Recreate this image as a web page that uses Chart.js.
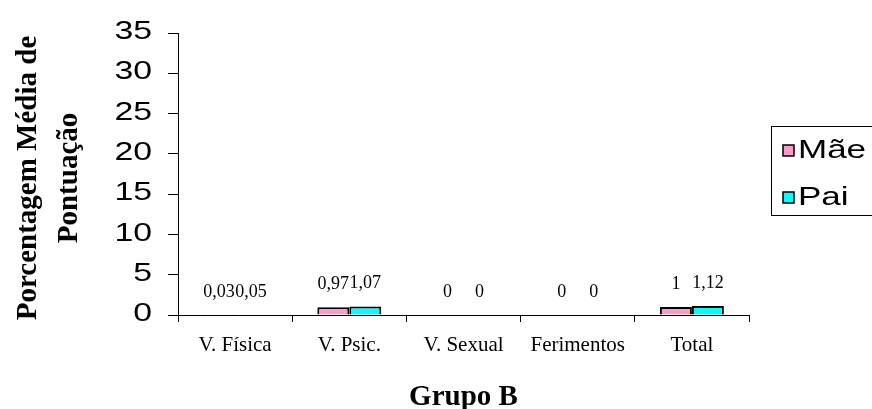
<!DOCTYPE html>
<html>
<head>
<meta charset="utf-8">
<script src="https://cdn.jsdelivr.net/npm/chart.js@4/dist/chart.umd.min.js"></script>
<style>
  body { margin: 0; background: #fff; }
</style>
</head>
<body>
<canvas id="grafico" width="872" height="409"></canvas>
<script>
// dados do grupo B
const categorias = ["V. Física", "V. Psic.", "V. Sexual", "Ferimentos", "Total"]
const valoresMae = [0.03, 0.97, 0, 0, 1]
const valoresPai = [0.05, 1.07, 0, 0, 1.12]
const ticksY = [0, 5, 10, 15, 20, 25, 30, 35]

const CORES = { mae: "#FF99CC", pai: "#00FFFF" }

// numero com virgula
function virgula(v) {
  return String(v).replace(".", ",")
}

// rotulos do eixo Y (desenhados a mao pra poder esticar o texto)
const rotulosEixoY = {
  id: "rotulosEixoY",
  afterDraw(chart) {
    const ctx = chart.ctx
    const y = chart.scales.y
    ctx.save()
    ctx.fillStyle = "#000"
    ctx.font = "26px 'Liberation Sans', Arial, sans-serif"
    ctx.textAlign = "right"
    ctx.textBaseline = "middle"
    y.ticks.forEach(function (t, i) {
      ctx.save()
      ctx.translate(y.right - 26, y.getPixelForTick(i) - 1)
      ctx.scale(1.3, 1)
      ctx.fillText(t.value, 0, 0)
      ctx.restore()
    })

    // titulo do eixo Y em duas linhas
    const meio = (chart.chartArea.top + chart.chartArea.bottom) / 2 + 4
    ctx.font = "bold 29px 'Liberation Serif', 'Times New Roman', serif"
    ctx.textAlign = "center"
    ctx.textBaseline = "alphabetic"
    ctx.translate(0, meio)
    ctx.rotate(-Math.PI / 2)
    ctx.fillText("Porcentagem Média de", 0, 36)
    ctx.fillText("Pontuação", 0, 77)
    ctx.restore()
  }
}

// valores em cima das barras
const valoresBarras = {
  id: "valoresBarras",
  afterDatasetsDraw(chart) {
    const ctx = chart.ctx
    ctx.save()
    ctx.fillStyle = "#000"
    ctx.font = "18px 'Liberation Serif', 'Times New Roman', serif"
    ctx.textAlign = "center"
    ctx.textBaseline = "alphabetic"
    chart.data.datasets.forEach(function (ds, d) {
      chart.getDatasetMeta(d).data.forEach(function (bar, i) {
        ctx.fillText(virgula(ds.data[i]), bar.x, bar.y - 18)
      })
    })
    ctx.restore()
  }
}

// legenda com caixa e titulo de baixo
const legendaCaixa = {
  id: "legendaCaixa",
  afterDraw(chart) {
    const ctx = chart.ctx
    ctx.save()
    ctx.strokeStyle = "#000"
    ctx.lineWidth = 1
    ctx.strokeRect(771.5, 126.5, 120, 89)

    chart.data.datasets.forEach(function (ds, d) {
      const yTop = 145 + d * 47
      ctx.fillStyle = ds.backgroundColor
      ctx.fillRect(783, yTop, 11, 11)
      ctx.strokeStyle = "#000"
      ctx.lineWidth = 1.5
      ctx.strokeRect(783, yTop, 11, 11)

      ctx.fillStyle = "#000"
      ctx.font = "25px 'Liberation Sans', Arial, sans-serif"
      ctx.textAlign = "left"
      ctx.textBaseline = "alphabetic"
      ctx.save()
      ctx.translate(798, yTop + 13)
      ctx.scale(1.4, 1)
      ctx.fillText(ds.label, 0, 0)
      ctx.restore()
    })

    const area = chart.chartArea
    ctx.fillStyle = "#000"
    ctx.font = "bold 29px 'Liberation Serif', 'Times New Roman', serif"
    ctx.textAlign = "center"
    ctx.fillText("Grupo B", (area.left + area.right) / 2, 405)
    ctx.restore()
  }
}

const grafico = new Chart(document.getElementById("grafico"), {
  type: "bar",
  data: {
    labels: categorias,
    datasets: [
      { label: "Mãe", data: valoresMae, backgroundColor: CORES.mae, borderColor: "#000", borderWidth: 2 },
      { label: "Pai", data: valoresPai, backgroundColor: CORES.pai, borderColor: "#000", borderWidth: 2 }
    ]
  },
  options: {
    responsive: false,
    animation: false,
    devicePixelRatio: 1,
    layout: { padding: { left: 0, top: 33, right: 123, bottom: 0 } },
    plugins: {
      legend: { display: false },
      tooltip: { enabled: false }
    },
    datasets: {
      bar: { categoryPercentage: 0.56, barPercentage: 1 }
    },
    scales: {
      x: {
        grid: { drawOnChartArea: false, tickLength: 7, color: "#000", offset: true },
        border: { color: "#000", width: 1 },
        ticks: {
          color: "#000",
          padding: 11,
          maxRotation: 0,
          font: { family: "'Liberation Serif', 'Times New Roman', serif", size: 21 }
        },
        afterFit(scale) { scale.height = 94 }
      },
      y: {
        min: 0,
        max: 35,
        afterBuildTicks(scale) {
          scale.ticks = ticksY.map(v => ({ value: v }))
        },
        grid: { drawOnChartArea: false, tickLength: 10, color: "#000" },
        border: { color: "#000", width: 1 },
        ticks: { display: false },
        afterFit(scale) { scale.width = 178 }
      }
    }
  },
  plugins: [rotulosEixoY, valoresBarras, legendaCaixa]
})
</script>
</body>
</html>
